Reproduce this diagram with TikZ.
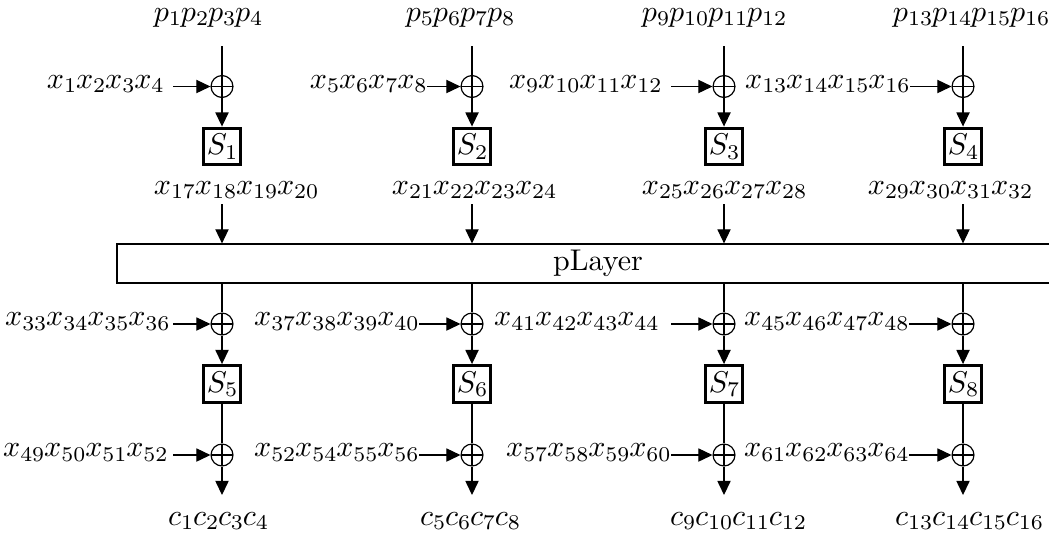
\documentclass[tikz,border=0pt]{standalone}
\usetikzlibrary{arrows.meta}

\scriptspace=0pt

\tikzset{
	xorgate/.style={circle,draw,inner sep=0pt,minimum size=7.3pt,
		path picture={\draw (path picture bounding box.north) -- (path picture bounding box.south)
			(path picture bounding box.west) -- (path picture bounding box.east);}},
	sbox/.style={rectangle,draw,line width=1pt,inner sep=0.8pt,minimum size=12.3pt},
	word/.style={inner sep=0pt}
}

\begin{document}
\begin{tikzpicture}[x=0.3333pt,y=-0.3333pt,>={Triangle[length=4.7pt,width=4.4pt]}]
	\useasboundingbox (0,0) rectangle (1049,535);

	% first round
	\node (plain 1) [word,anchor=base] at (208,21) {$p_1p_2p_3p_4$};
	\node (plain 2) [word,anchor=base] at (460,21) {$p_5p_6p_7p_8$};
	\node (plain 3) [word,anchor=base] at (714,21) {$p_9p_{10}p_{11}p_{12}$};
	\node (plain 4) [word,anchor=base] at (971,21) {$p_{13}p_{14}p_{15}p_{16}$};

	\coordinate (plain 1 out) at (222,46);
	\coordinate (plain 2 out) at (472,46);
	\coordinate (plain 3 out) at (724,46);
	\coordinate (plain 4 out) at (963,46);

	\node (xor 1) [xorgate] at (222,86.5) {};
	\node (xor 2) [xorgate] at (472,86.5) {};
	\node (xor 3) [xorgate] at (724,86.5) {};
	\node (xor 4) [xorgate] at (963,86.5) {};

	\node (key 1) [word,anchor=base east] at (164,88) {$x_1x_2x_3x_4$};
	\node (key 2) [word,anchor=base east] at (427,88) {$x_5x_6x_7x_8$};
	\node (key 3) [word,anchor=base east] at (662,88) {$x_9x_{10}x_{11}x_{12}$};
	\node (key 4) [word,anchor=base east] at (910,88) {$x_{13}x_{14}x_{15}x_{16}$};

	\coordinate (key 1 out) at (173,86.5);
	\coordinate (key 2 out) at (427,86.5);
	\coordinate (key 3 out) at (671,86.5);
	\coordinate (key 4 out) at (910,86.5);

	\node (sbox 1) [sbox,below of=xor 1,node distance=20pt] {$S_1$};
	\node (sbox 2) [sbox,below of=xor 2,node distance=20pt] {$S_2$};
	\node (sbox 3) [sbox,below of=xor 3,node distance=20pt] {$S_3$};
	\node (sbox 4) [sbox,below of=xor 4,node distance=20pt] {$S_4$};

	\node (mid 1) [word,anchor=base] at (236,194) {$x_{17}x_{18}x_{19}x_{20}$};
	\node (mid 2) [word,anchor=base] at (474,194) {$x_{21}x_{22}x_{23}x_{24}$};
	\node (mid 3) [word,anchor=base] at (724,194) {$x_{25}x_{26}x_{27}x_{28}$};
	\node (mid 4) [word,anchor=base] at (950,194) {$x_{29}x_{30}x_{31}x_{32}$};

	\coordinate (mid 1 out) at (222,204);
	\coordinate (mid 2 out) at (472,204);
	\coordinate (mid 3 out) at (724,204);
	\coordinate (mid 4 out) at (963,204);

	\node (player) [draw,inner sep=0pt,minimum width=320.7pt,minimum height=13pt] at (598,263.5) {pLayer};

	\draw (plain 1 out) -- (xor 1);
	\draw (plain 2 out) -- (xor 2);
	\draw (plain 3 out) -- (xor 3);
	\draw (plain 4 out) -- (xor 4);

	\draw[->] (key 1 out) -- (xor 1);
	\draw[->] (key 2 out) -- (xor 2);
	\draw[->] (key 3 out) -- (xor 3);
	\draw[->] (key 4 out) -- (xor 4);

	\draw[->] (xor 1) -- (sbox 1);
	\draw[->] (xor 2) -- (sbox 2);
	\draw[->] (xor 3) -- (sbox 3);
	\draw[->] (xor 4) -- (sbox 4);

	\draw[->] (mid 1 out) -- (player.north -| mid 1 out);
	\draw[->] (mid 2 out) -- (player.north -| mid 2 out);
	\draw[->] (mid 3 out) -- (player.north -| mid 3 out);
	\draw[->] (mid 4 out) -- (player.north -| mid 4 out);

	% second round
	\node (xor 5) [xorgate] at (222,324) {};
	\node (xor 6) [xorgate] at (472,324) {};
	\node (xor 7) [xorgate] at (724,324) {};
	\node (xor 8) [xorgate] at (963,324) {};

	\node (key 5) [word,anchor=base east] at (170,325.5) {$x_{33}x_{34}x_{35}x_{36}$};
	\node (key 6) [word,anchor=base east] at (419,325.5) {$x_{37}x_{38}x_{39}x_{40}$};
	\node (key 7) [word,anchor=base east] at (659,325.5) {$x_{41}x_{42}x_{43}x_{44}$};
	\node (key 8) [word,anchor=base east] at (909,325.5) {$x_{45}x_{46}x_{47}x_{48}$};

	\coordinate (key 5 out) at (173,324);
	\coordinate (key 6 out) at (419,324);
	\coordinate (key 7 out) at (671,324);
	\coordinate (key 8 out) at (909,324);

	\node (sbox 5) [sbox,below of=xor 5,node distance=20pt] {$S_5$};
	\node (sbox 6) [sbox,below of=xor 6,node distance=20pt] {$S_6$};
	\node (sbox 7) [sbox,below of=xor 7,node distance=20pt] {$S_7$};
	\node (sbox 8) [sbox,below of=xor 8,node distance=20pt] {$S_8$};

	\node (xor 9)  [xorgate] at (222,455) {};
	\node (xor 10) [xorgate] at (472,455) {};
	\node (xor 11) [xorgate] at (724,455) {};
	\node (xor 12) [xorgate] at (963,455) {};

	\node (key 9)  [word,anchor=base east] at (168,456.5) {$x_{49}x_{50}x_{51}x_{52}$};
	\node (key 10) [word,anchor=base east] at (419,456.5) {$x_{52}x_{54}x_{55}x_{56}$};
	\node (key 11) [word,anchor=base east] at (671,456.5) {$x_{57}x_{58}x_{59}x_{60}$};
	\node (key 12) [word,anchor=base east] at (909,456.5) {$x_{61}x_{62}x_{63}x_{64}$};

	\coordinate (key 9 out)  at (173,455);
	\coordinate (key 10 out) at (419,455);
	\coordinate (key 11 out) at (671,455);
	\coordinate (key 12 out) at (909,455);

	\coordinate (cipher 1 in) at (222,495);
	\coordinate (cipher 2 in) at (472,495);
	\coordinate (cipher 3 in) at (724,495);
	\coordinate (cipher 4 in) at (963,495);

	\node (cipher 1) [word,anchor=base] at (218,525) {$c_1c_2c_3c_4$};
	\node (cipher 2) [word,anchor=base] at (470,525) {$c_5c_6c_7c_8$};
	\node (cipher 3) [word,anchor=base] at (738,525) {$c_9c_{10}c_{11}c_{12}$};
	\node (cipher 4) [word,anchor=base] at (969,525) {$c_{13}c_{14}c_{15}c_{16}$};

	\draw (player.south -| xor 5) -- (xor 5);
	\draw (player.south -| xor 6) -- (xor 6);
	\draw (player.south -| xor 7) -- (xor 7);
	\draw (player.south -| xor 8) -- (xor 8);

	\draw[->] (key 5 out) -- (xor 5);
	\draw[->] (key 6 out) -- (xor 6);
	\draw[->] (key 7 out) -- (xor 7);
	\draw[->] (key 8 out) -- (xor 8);

	\draw[->] (xor 5) -- (sbox 5);
	\draw[->] (xor 6) -- (sbox 6);
	\draw[->] (xor 7) -- (sbox 7);
	\draw[->] (xor 8) -- (sbox 8);

	\draw (sbox 5) -- (xor 9);
	\draw (sbox 6) -- (xor 10);
	\draw (sbox 7) -- (xor 11);
	\draw (sbox 8) -- (xor 12);

	\draw[->] (key 9 out)  -- (xor 9);
	\draw[->] (key 10 out) -- (xor 10);
	\draw[->] (key 11 out) -- (xor 11);
	\draw[->] (key 12 out) -- (xor 12);

	\draw[->] (xor 9)  -- (cipher 1 in);
	\draw[->] (xor 10) -- (cipher 2 in);
	\draw[->] (xor 11) -- (cipher 3 in);
	\draw[->] (xor 12) -- (cipher 4 in);

\end{tikzpicture}
\end{document}
